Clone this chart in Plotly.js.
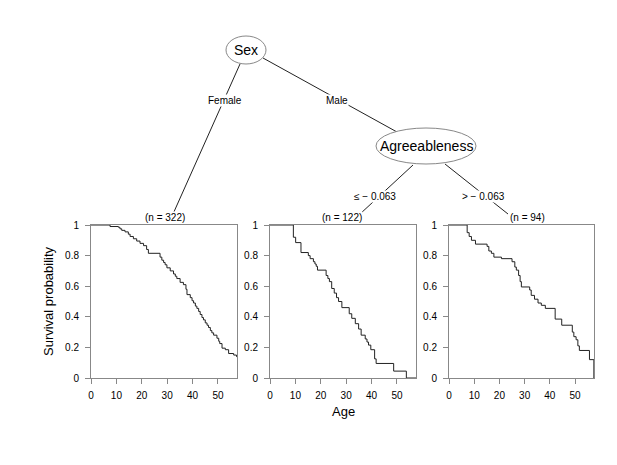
<!DOCTYPE html>
<html>
<head>
<meta charset="utf-8">
<script src="https://cdn.plot.ly/plotly-3.0.1.min.js"></script>
<style>
  body { margin: 0; background: #fff; }
  #chart { width: 617px; height: 465px; }
</style>
</head>
<body>
<div id="chart"></div>
<script>
// Kaplan-Meier steps (event time, survival after it)
const femaleTime = [7.5, 10.8, 11.4, 12.1, 13.4, 14.7, 15.4, 16.7, 18.0, 19.3, 20.7, 21.9, 22.6, 27.2, 27.9, 28.6, 29.2, 29.9, 31.2, 32.5, 33.2, 33.8, 35.1, 36.4, 37.4, 37.8, 39.1, 39.8, 40.4, 41.1, 41.7, 42.4, 43.0, 43.7, 44.3, 45.0, 45.7, 46.3, 47.0, 47.6, 48.3, 49.6, 50.3, 50.7, 51.6, 52.9, 54.2, 56.2, 57.3];
const femaleSurv = [0.99, 0.985, 0.975, 0.965, 0.955, 0.94, 0.925, 0.91, 0.895, 0.88, 0.865, 0.84, 0.815, 0.79, 0.77, 0.755, 0.74, 0.72, 0.70, 0.68, 0.665, 0.65, 0.625, 0.61, 0.58, 0.545, 0.525, 0.505, 0.49, 0.47, 0.455, 0.435, 0.415, 0.395, 0.38, 0.36, 0.345, 0.33, 0.31, 0.295, 0.28, 0.26, 0.24, 0.225, 0.195, 0.185, 0.16, 0.15, 0.14];

const maleLowTime = [9.2, 10.1, 12.2, 15.1, 15.8, 17.1, 17.7, 18.2, 18.7, 22.1, 22.8, 23.4, 24.3, 25.3, 26.2, 27.0, 28.3, 31.2, 32.2, 33.6, 34.9, 35.9, 37.5, 38.2, 38.8, 39.7, 41.2, 41.8, 48.7, 53.7];
const maleLowSurv = [0.92, 0.885, 0.82, 0.80, 0.78, 0.76, 0.745, 0.73, 0.705, 0.67, 0.65, 0.63, 0.585, 0.555, 0.525, 0.50, 0.46, 0.42, 0.39, 0.355, 0.32, 0.28, 0.255, 0.235, 0.215, 0.185, 0.125, 0.095, 0.045, 0];

const maleHighTime = [7.2, 8.0, 8.9, 10.5, 15.1, 15.8, 16.8, 17.8, 20.8, 25.0, 26.1, 26.7, 27.6, 28.2, 28.7, 32.0, 32.6, 33.9, 35.3, 36.6, 38.2, 42.1, 44.7, 48.9, 49.5, 50.4, 51.1, 51.7, 55.7, 57.45];
const maleHighSurv = [0.95, 0.925, 0.90, 0.875, 0.86, 0.83, 0.815, 0.79, 0.78, 0.76, 0.725, 0.705, 0.67, 0.63, 0.595, 0.575, 0.54, 0.515, 0.49, 0.475, 0.455, 0.385, 0.345, 0.30, 0.27, 0.25, 0.21, 0.18, 0.12, 0];

const nodeCounts = ["(n = 322)", "(n = 122)", "(n = 94)"];
const xTickVals = [0, 10, 20, 30, 40, 50];
const yTickVals = [0, 0.2, 0.4, 0.6, 0.8, 1];
const yTickText = ["0", "0.2", "0.4", "0.6", "0.8", "1"];
const maxAge = 57.5;

const W = 617, H = 465;
const px = v => v / W;          // pixel -> paper
const py = v => 1 - v / H;
const FONT = "Liberation Sans, Arial, sans-serif";

function kmTrace(t, s, n) {
  return {
    x: [0].concat(t, [maxAge]),
    y: [1].concat(s, [s[s.length - 1]]),
    type: "scatter", mode: "lines",
    line: {shape: "hv", color: "#222", width: 1},
    xaxis: "x" + n, yaxis: "y" + n,
    hoverinfo: "skip", showlegend: false
  };
}

const traces = [
  kmTrace(femaleTime, femaleSurv, ""),
  kmTrace(maleLowTime, maleLowSurv, "2"),
  kmTrace(maleHighTime, maleHighSurv, "3")
];

// panel boxes in pixels (left, right)
const panels = [[91, 237], [270, 416], [449, 594]];
const boxTop = 225, boxBot = 378;

function xax(i) {
  return {
    domain: [px(panels[i][0]), px(panels[i][1])],
    range: [0, maxAge], anchor: i ? "y" + (i + 1) : "y",
    tickvals: xTickVals, ticks: "outside", ticklen: 5, tickcolor: "#888",
    ticklabelstandoff: 3,
    showline: true, linecolor: "#888", mirror: true, showgrid: false, zeroline: false,
    tickfont: {size: 10, color: "#000"}, fixedrange: true
  };
}
function yax(i) {
  return {
    domain: [py(boxBot), py(boxTop)],
    range: [0, 1], anchor: i ? "x" + (i + 1) : "x",
    tickvals: yTickVals, ticktext: yTickText, ticks: "outside", ticklen: 5, tickcolor: "#888",
    ticklabelstandoff: 4,
    showline: true, linecolor: "#888", mirror: true, showgrid: false, zeroline: false,
    tickfont: {size: 10, color: "#000"}, fixedrange: true
  };
}

// tree: node ellipses and edges (pixels)
const nodes = [
  {label: "Sex", cx: 246, cy: 50, rx: 20, ry: 14},
  {label: "Agreeableness", cx: 426, cy: 146, rx: 50, ry: 18}
];
const edges = [
  [240, 64, 173, 214],
  [263, 58, 397, 132],
  [413, 165, 360, 214],
  [445, 164, 508, 214]
];
const edgeLabels = [
  {text: "Female", x: 225, y: 100},
  {text: "Male", x: 337, y: 100},
  {text: "\u2264 \u2212 0.063", x: 375, y: 197},
  {text: "> \u2212 0.063", x: 483, y: 197}
];
const countPos = [[165, 217], [342, 217], [527, 217]];

const shapes = [];
edges.forEach(e => shapes.push({
  type: "line", xref: "paper", yref: "paper",
  x0: px(e[0]), y0: py(e[1]), x1: px(e[2]), y1: py(e[3]),
  line: {color: "#222", width: 1}
}));
nodes.forEach(n => shapes.push({
  type: "circle", xref: "paper", yref: "paper",
  x0: px(n.cx - n.rx), x1: px(n.cx + n.rx), y0: py(n.cy + n.ry), y1: py(n.cy - n.ry),
  line: {color: "#888", width: 1}, fillcolor: "#fff"
}));

function label(text, x, y, size, extra) {
  return Object.assign({
    text: text, x: px(x), y: py(y), xref: "paper", yref: "paper",
    xanchor: "center", yanchor: "middle", showarrow: false,
    font: {size: size, color: "#000", family: FONT}
  }, extra || {});
}

const annotations = [];
nodes.forEach(n => annotations.push(label(n.label, n.cx, n.cy, 14)));
edgeLabels.forEach(l => annotations.push(label(l.text, l.x, l.y, 10, {bgcolor: "#fff", borderpad: 0})));
nodeCounts.forEach((c, i) => annotations.push(label(c, countPos[i][0], countPos[i][1], 10, {bgcolor: "#fff", borderpad: 0})));
annotations.push(label("Age", 343, 411, 13));
annotations.push(label("Survival probability", 48, 301, 13, {textangle: -90}));

const layout = {
  width: W, height: H,
  margin: {l: 0, r: 0, t: 0, b: 0},
  paper_bgcolor: "#fff", plot_bgcolor: "#fff",
  font: {family: FONT, color: "#000"},
  showlegend: false,
  xaxis: xax(0), yaxis: yax(0),
  xaxis2: xax(1), yaxis2: yax(1),
  xaxis3: xax(2), yaxis3: yax(2),
  shapes: shapes,
  annotations: annotations
};

Plotly.newPlot("chart", traces, layout, {displayModeBar: false, staticPlot: true});
</script>
</body>
</html>
